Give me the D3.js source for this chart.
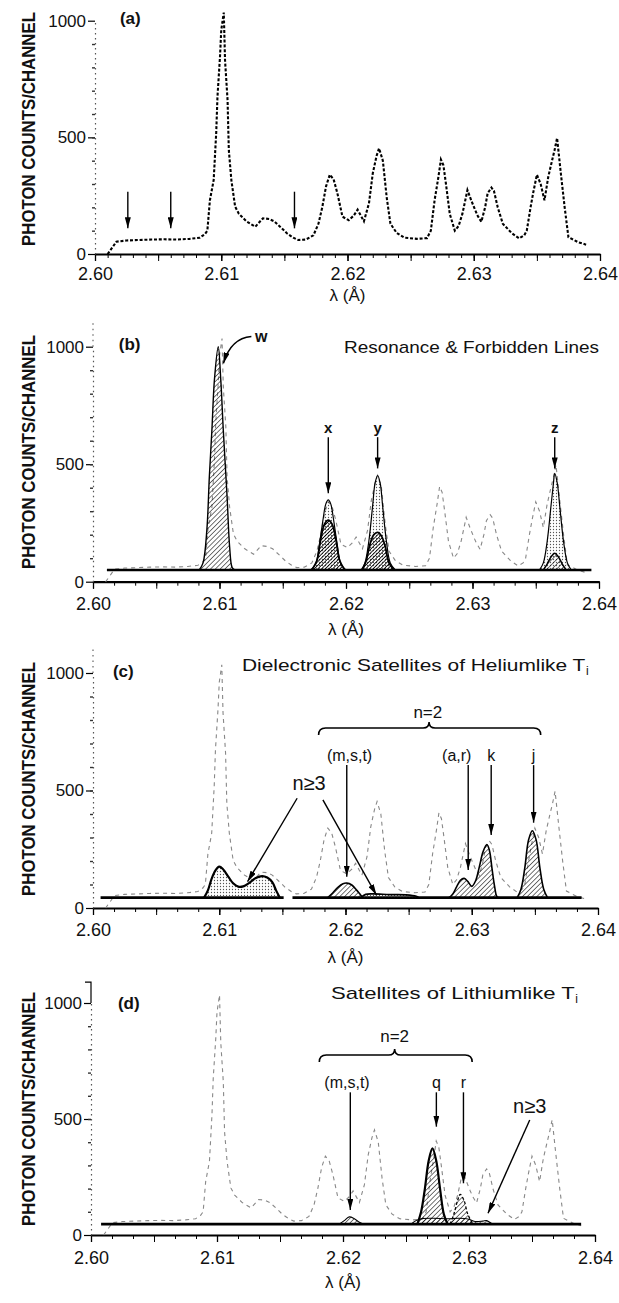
<!DOCTYPE html>
<html><head><meta charset="utf-8">
<script src="https://cdn.jsdelivr.net/npm/d3@7"></script>
<style>
body{margin:0;background:#fff}
svg{display:block}
text{font-family:"Liberation Sans","Arimo","DejaVu Sans",sans-serif;fill:#111}
</style>
</head><body><svg id="c" width="619" height="1303"></svg>
<script>
// ---------------- DATA ----------------
const xTickLabels = ["2.60","2.61","2.62","2.63","2.64"];
const yTickLabels = ["0","500","1000"];
// measured spectrum (panel a), [wavelength Å, counts]
const experimental = [
[2.6010,0],[2.6014,30],[2.6017,53],[2.6025,58],[2.6035,60],[2.6045,62],[2.6055,63],[2.6065,62],
[2.6075,65],[2.6083,70],[2.6087,85],[2.6089,100],[2.6091,230],[2.6094,317],[2.6096,518],[2.6097,674],
[2.6099,845],[2.6100,960],[2.6102,1035],[2.6103,830],[2.6105,660],[2.6106,445],[2.6108,317],[2.6111,203],
[2.6114,172],[2.6120,140],[2.6127,117],[2.6133,153],[2.6138,150],[2.6142,140],[2.6147,115],[2.6152,89],
[2.6157,70],[2.6161,60],[2.6167,62],[2.6173,80],[2.6177,130],[2.6180,200],[2.6183,290],[2.6186,340],
[2.6189,320],[2.6192,260],[2.6196,160],[2.6201,145],[2.6205,165],[2.6208,190],[2.6211,160],[2.6213,140],
[2.6217,217],[2.6220,345],[2.6223,420],[2.6225,453],[2.6228,400],[2.6231,245],[2.6234,130],[2.6239,90],
[2.6245,70],[2.6255,65],[2.6263,68],[2.6266,100],[2.6269,231],[2.6272,330],[2.6274,405],[2.6276,380],
[2.6278,300],[2.6281,172],[2.6285,100],[2.6288,120],[2.6291,172],[2.6295,274],[2.6298,230],[2.6301,190],
[2.6303,165],[2.6306,138],[2.6309,200],[2.6311,260],[2.6314,285],[2.6316,270],[2.6319,200],[2.6323,130],
[2.6330,90],[2.6336,67],[2.6340,80],[2.6342,100],[2.6345,200],[2.6347,260],[2.6350,340],[2.6353,300],
[2.6356,230],[2.6359,330],[2.6362,400],[2.6364,445],[2.6366,497],[2.6369,345],[2.6372,200],[2.6375,72],
[2.6383,50],[2.6389,40]
];
const arrowsA = [2.6026, 2.6060, 2.6158];
// panel b: resonance & forbidden lines
const baselineB = [[2.6011,50],[2.6394,50]];
const bW      = [[2.6084,50],[2.6087,80],[2.6090,220],[2.6092,450],[2.6094,645],[2.6096,860],[2.6099,1000],[2.6101,860],[2.6103,645],[2.6106,362],[2.6108,149],[2.6110,60],[2.6112,50]];
const bXOuter = [[2.6172,50],[2.6176,75],[2.6179,160],[2.6182,270],[2.6184,330],[2.6186,348],[2.6188,330],[2.6190,270],[2.6193,160],[2.6196,75],[2.6200,50]];
const bXInner = [[2.6173,50],[2.6177,90],[2.6180,180],[2.6183,245],[2.6186,262],[2.6189,245],[2.6192,180],[2.6195,90],[2.6199,50]];
const bYOuter = [[2.6212,50],[2.6215,80],[2.6218,170],[2.6221,320],[2.6223,420],[2.6225,452],[2.6227,420],[2.6229,320],[2.6232,170],[2.6235,80],[2.6239,50]];
const bYInner = [[2.6213,50],[2.6216,90],[2.6219,160],[2.6222,200],[2.6225,210],[2.6228,195],[2.6231,150],[2.6234,80],[2.6238,50]];
const bZOuter = [[2.6353,50],[2.6356,80],[2.6359,170],[2.6362,320],[2.6364,420],[2.6365,461],[2.6367,420],[2.6369,320],[2.6372,170],[2.6375,80],[2.6378,50]];
const bZInner = [[2.6356,50],[2.6359,75],[2.6362,105],[2.6365,121],[2.6368,105],[2.6371,75],[2.6374,50]];
// panel c: dielectronic satellites of heliumlike Ti
const baselineC1 = [[2.6006,44],[2.6151,44]];
const baselineC2 = [[2.6158,44],[2.6387,44]];
const cN3a = [[2.6088,44],[2.6091,75],[2.6094,125],[2.6097,160],[2.6100,176],[2.6103,165],[2.6107,135],[2.6111,105],[2.6115,91],[2.6119,92],[2.6124,108],[2.6129,128],[2.6134,136],[2.6138,130],[2.6142,110],[2.6145,75],[2.6148,44]];
const cMST = [[2.6186,44],[2.6190,65],[2.6194,88],[2.6198,103],[2.6201,106],[2.6205,98],[2.6209,75],[2.6212,55],[2.6214,44]];
const cN3b = [[2.6212,44],[2.6216,58],[2.6222,60],[2.6235,57],[2.6248,56],[2.6256,50],[2.6258,44]];
const cARK = [[2.6282,44],[2.6285,60],[2.6288,90],[2.6291,118],[2.6294,126],[2.6297,112],[2.6300,92],[2.6303,115],[2.6306,175],[2.6309,240],[2.6312,270],[2.6314,245],[2.6316,170],[2.6318,95],[2.6320,48],[2.6322,44]];
const cJ   = [[2.6336,44],[2.6339,80],[2.6342,170],[2.6345,290],[2.6348,329],[2.6351,290],[2.6354,170],[2.6357,80],[2.6360,44]];
// panel d: satellites of lithiumlike Ti
const baselineD = [[2.6008,47],[2.6389,47]];
const dN3  = [[2.6254,47],[2.6258,62],[2.6262,70],[2.6272,72],[2.6283,70],[2.6292,72],[2.6300,68],[2.6305,58],[2.6311,60],[2.6314,62],[2.6318,50],[2.6322,47]];
const dMST = [[2.6197,47],[2.6201,62],[2.6205,78],[2.6209,70],[2.6213,55],[2.6216,47]];
const dQ   = [[2.6259,47],[2.6262,100],[2.6265,200],[2.6268,320],[2.6271,374],[2.6274,320],[2.6277,200],[2.6280,90],[2.6283,47]];
const dR   = [[2.6285,47],[2.6288,90],[2.6291,150],[2.6293,175],[2.6296,150],[2.6299,90],[2.6303,47]];

// ---------------- LAYOUT ----------------
const layout = {
  a:{x0:95,x1:600,y0:254,y1k:20.7,minor:0.001,nMinor:40,lab:20,tit:47,ytop:1000,yc:129},
  b:{x0:93,x1:599,y0:581.7,y1k:346.7,minor:0.01/6,nMinor:24,lab:22,tit:53,ytop:1100,yc:452},
  c:{x0:93,x1:598,y0:908,y1k:673,minor:0.01/6,nMinor:24,lab:22,tit:55,ytop:1100,yc:779},
  d:{x0:91,x1:595,y0:1235,y1k:1003,minor:0.01/6,nMinor:24,lab:23,tit:53,ytop:1000,yc:1109}
};

const svg = d3.select("#c");
const defs = svg.append("defs");
defs.append("pattern").attr("id","hatch").attr("patternUnits","userSpaceOnUse")
  .attr("width",3.4).attr("height",3.4).attr("patternTransform","rotate(45)")
  .append("line").attr("x1",0).attr("y1",0).attr("x2",0).attr("y2",3.4).attr("stroke","#000").attr("stroke-width",1.1);
defs.append("pattern").attr("id","hatchDark").attr("patternUnits","userSpaceOnUse")
  .attr("width",2.6).attr("height",2.6).attr("patternTransform","rotate(45)")
  .append("line").attr("x1",0).attr("y1",0).attr("x2",0).attr("y2",2.6).attr("stroke","#000").attr("stroke-width",1.7);
defs.append("pattern").attr("id","stip").attr("patternUnits","userSpaceOnUse")
  .attr("width",3).attr("height",3)
  .append("circle").attr("cx",1.5).attr("cy",1.5).attr("r",0.65).attr("fill","#555");
const mk = defs.append("marker").attr("id","ah").attr("viewBox","0 0 10 10")
  .attr("refX",10).attr("refY",5).attr("markerWidth",11).attr("markerHeight",6)
  .attr("markerUnits","userSpaceOnUse").attr("orient","auto").attr("preserveAspectRatio","none");
mk.append("path").attr("d","M0,0L10,5L0,10Z").attr("fill","#000");

function makePanel(key){
  const p = layout[key];
  const x = d3.scaleLinear().domain([+xTickLabels[0], +xTickLabels[xTickLabels.length-1]]).range([p.x0,p.x1]);
  const y = d3.scaleLinear().domain([0,1000]).range([p.y0,p.y1k]);
  const g = svg.append("g");
  const minorVals = d3.range(p.nMinor+1).map(i=>x.domain()[0]+i*p.minor);
  g.append("g").attr("transform",`translate(0,${p.y0})`)
    .call(d3.axisBottom(x).tickValues(minorVals).tickSize(4).tickSizeOuter(0).tickFormat(""))
    .call(s=>s.select(".domain").remove());
  const halfVals = d3.range(9).map(i=>x.domain()[0]+i*0.005);
  g.append("g").attr("transform",`translate(0,${p.y0})`)
    .call(d3.axisBottom(x).tickValues(halfVals).tickSize(7).tickSizeOuter(0).tickFormat(""))
    .call(s=>s.select(".domain").remove());
  const xa = g.append("g").attr("transform",`translate(0,${p.y0})`)
    .call(d3.axisBottom(x).tickValues(xTickLabels.map(Number)).tickFormat((d,i)=>xTickLabels[i]).tickSize(7).tickSizeOuter(0));
  xa.attr("font-family",null).attr("font-size",null);
  xa.select(".domain").attr("stroke-width",2.2);
  xa.selectAll(".tick line").attr("stroke-width",1.3);
  g.selectAll(".tick line").attr("stroke","#000");
  xa.selectAll("text").attr("y",p.lab-6.5).attr("dy","0.71em").style("font-size","18px").style("fill","#111");
  const ya = g.append("g").attr("transform",`translate(${p.x0},0)`)
    .call(d3.axisLeft(y).tickValues(yTickLabels.map(Number)).tickFormat((d,i)=>yTickLabels[i]).tickSize(7).tickSizeOuter(0).tickPadding(2));
  ya.attr("font-family",null).attr("font-size",null);
  ya.select(".domain").attr("stroke","#555").attr("stroke-width",1.2).attr("stroke-dasharray","1.5,3.5");
  ya.selectAll(".tick line").attr("stroke","#000").attr("stroke-width",1.2);
  ya.selectAll("text").style("font-size","17px").style("fill","#111");
  g.append("g").attr("transform",`translate(${p.x0},0)`)
    .call(d3.axisLeft(y).tickValues(d3.range(100,1000,100)).tickSize(3).tickSizeOuter(0).tickFormat(""))
    .call(s=>s.select(".domain").remove())
    .selectAll(".tick line").attr("stroke","#333").attr("stroke-width",1.4);
  if (key==="d") {
    g.append("path").attr("d",`M${p.x0},${y(1000)}V${y(1090)}H${p.x0-6}`).attr("fill","none").attr("stroke","#000").attr("stroke-width",1.2);
  } else if (p.ytop>1000) {
    g.append("line").attr("x1",p.x0).attr("x2",p.x0).attr("y1",y(1000)).attr("y2",y(p.ytop))
      .attr("stroke","#666").attr("stroke-width",1.2).attr("stroke-dasharray","1.5,4");
  }
  g.append("text").attr("x",x(2.62)).attr("y",p.y0+p.tit).attr("text-anchor","middle")
    .style("font-size","17px").text("λ (Å)");
  const yt = g.append("text").attr("text-anchor","middle").attr("dy","0.36em")
    .style("font-size","19px").style("font-weight","bold").text("PHOTON COUNTS/CHANNEL");
  const L = yt.node().getComputedTextLength() || 280;
  yt.attr("transform",`translate(28,${p.yc}) rotate(-90) scale(${234/L},1)`);
  return {x,y,g,p};
}

function lineGen(P, curve){ return d3.line().x(d=>P.x(d[0])).y(d=>P.y(d[1])).curve(curve||d3.curveCatmullRom.alpha(0.5)); }
function peak(P, data, fill, sw, dash){
  const base = d3.min(data, d=>d[1]);
  const area = d3.area().x(d=>P.x(d[0])).y0(P.y(base)).y1(d=>P.y(d[1])).curve(d3.curveCatmullRom.alpha(0.5));
  P.g.append("path").attr("d",area(data)).attr("fill",fill).attr("stroke","none");
  const l = P.g.append("path").attr("d",lineGen(P)(data)).attr("fill","none").attr("stroke","#000").attr("stroke-width",sw);
  if (dash) l.attr("stroke-dasharray",dash);
}
function baseline(P, data){
  P.g.append("path").attr("d",lineGen(P,d3.curveLinear)(data)).attr("fill","none").attr("stroke","#000").attr("stroke-width",2.6);
}
function expGhost(P){
  P.g.append("path").attr("d",lineGen(P,d3.curveLinear)(experimental)).attr("fill","none")
    .attr("stroke","#888").attr("stroke-width",1.1).attr("stroke-dasharray","4,4");
}
function label(P, lx, lv, s, size, anchor, weight){
  return P.g.append("text").attr("x",P.x(lx)).attr("y",P.y(lv)).attr("text-anchor",anchor||"middle")
    .style("font-size",size+"px").style("font-weight",weight||"normal").text(s);
}
function arrow(P, l1, v1, l2, v2){
  P.g.append("line").attr("x1",P.x(l1)).attr("y1",P.y(v1)).attr("x2",P.x(l2)).attr("y2",P.y(v2))
    .attr("stroke","#000").attr("stroke-width",1.4).attr("marker-end","url(#ah)");
}
function brace(P, lL, lR, lM, v){
  const xl=P.x(lL), xr=P.x(lR), xm=P.x(lM), yy=P.y(v);
  const d=`M${xl},${yy+7}Q${xl},${yy} ${xl+7},${yy}L${xm-6},${yy}Q${xm},${yy} ${xm},${yy-6}Q${xm},${yy} ${xm+6},${yy}L${xr-7},${yy}Q${xr},${yy} ${xr},${yy+7}`;
  P.g.append("path").attr("d",d).attr("fill","none").attr("stroke","#000").attr("stroke-width",1.6);
}
function title(P, l0, l1, v, s){
  label(P,l0,v,s,17,"start").attr("textLength",P.x(l1)-P.x(l0)).attr("lengthAdjust","spacingAndGlyphs");
  P.g.append("text").attr("x",P.x(l1)+0.5).attr("y",P.y(v)+4).style("font-size","12px").text("i");
}

// ---------- Panel a ----------
{
  const P = makePanel("a");
  P.g.append("path").attr("d",lineGen(P,d3.curveLinear)(experimental)).attr("fill","none")
    .attr("stroke","#000").attr("stroke-width",2.1).attr("stroke-dasharray","3,1.8");
  arrowsA.forEach(l=>arrow(P,l,267,l,110));
  label(P,2.6028,985,"(a)",17,"middle","bold");
}
// ---------- Panel b ----------
{
  const P = makePanel("b");
  expGhost(P);
  baseline(P, baselineB);
  peak(P,bW,"url(#hatch)",1.4);
  peak(P,bXOuter,"url(#stip)",1.2); peak(P,bXInner,"url(#hatchDark)",1.8);
  peak(P,bYOuter,"url(#stip)",1.2); peak(P,bYInner,"url(#hatchDark)",1.8);
  peak(P,bZOuter,"url(#stip)",1.2); peak(P,bZInner,"url(#hatch)",1.5);
  label(P,2.6029,985,"(b)",17,"middle","bold");
  label(P,2.6133,1020,"w",16,"middle","bold");
  P.g.append("path").attr("d",`M${P.x(2.61252)},${P.y(1043)}Q${P.x(2.6109)},${P.y(1036)} ${P.x(2.61031)},${P.y(929)}`)
    .attr("fill","none").attr("stroke","#000").attr("stroke-width",1.5).attr("marker-end","url(#ah)");
  label(P,2.61984,972,"Resonance & Forbidden Lines",17,"start").attr("textLength",P.x(2.6400)-P.x(2.61984)).attr("lengthAdjust","spacingAndGlyphs");
  [[2.6186,"x",376],[2.6225,"y",482],[2.6365,"z",482]].forEach(([l,s,tip])=>{
    label(P,l,633,s,15,"middle","bold");
    arrow(P,l,615,l,tip);
  });
}
// ---------- Panel c ----------
{
  const P = makePanel("c");
  expGhost(P);
  baseline(P, baselineC1); baseline(P, baselineC2);
  peak(P,cN3a,"url(#stip)",2.2);
  peak(P,cN3b,"url(#stip)",1.6);
  peak(P,cMST,"url(#hatch)",1.6);
  peak(P,cARK,"url(#hatch)",1.6);
  peak(P,cJ,"url(#hatch)",1.6);
  label(P,2.6024,985,"(c)",17,"middle","bold");
  title(P,2.6118,2.6390,1008,"Dielectronic Satellites of Heliumlike T");
  label(P,2.62652,808,"n=2",17);
  brace(P,2.61787,2.63546,2.62662,766);
  label(P,2.62032,625,"(m,s,t)",16);
  arrow(P,2.6201,608,2.6201,133);
  label(P,2.62881,625,"(a,r)",16);
  arrow(P,2.62972,608,2.62972,162);
  label(P,2.63154,625,"k",16);
  arrow(P,2.63154,608,2.63154,311);
  label(P,2.6349,625,"j",16);
  arrow(P,2.6349,608,2.6349,363);
  label(P,2.61711,502,"n≥3",20);
  arrow(P,2.61617,467,2.61224,112);
  arrow(P,2.61821,460,2.62245,55);
}
// ---------- Panel d ----------
{
  const P = makePanel("d");
  expGhost(P);
  baseline(P, baselineD);
  peak(P,dN3,"url(#hatch)",1.1);
  peak(P,dMST,"url(#hatch)",1.1);
  peak(P,dQ,"url(#hatch)",2.2);
  peak(P,dR,"url(#hatch)",1.3,"3,2");
  label(P,2.6030,972,"(d)",17,"middle","bold");
  title(P,2.61905,2.6384,1017,"Satellites of Lithiumlike T");
  label(P,2.6241,832,"n=2",17);
  brace(P,2.61812,2.63025,2.6241,776);
  label(P,2.62032,634,"(m,s,t)",16);
  arrow(P,2.62058,615,2.62058,108);
  label(P,2.62741,634,"q",16);
  arrow(P,2.62741,615,2.62741,467);
  label(P,2.62956,634,"r",16);
  arrow(P,2.62956,615,2.62956,223);
  label(P,2.63482,526,"n≥3",20);
  arrow(P,2.63482,496,2.63151,94);
}
</script></body></html>
